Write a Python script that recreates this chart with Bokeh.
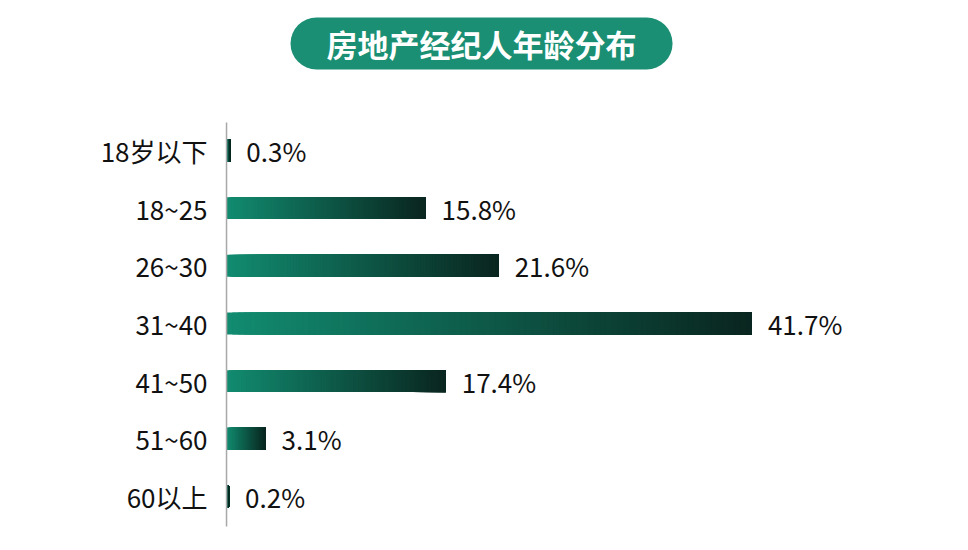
from bokeh.plotting import figure
from bokeh.models import Range1d, ColumnDataSource, BoxAnnotation, Label
from bokeh.core.properties import value
from bokeh.embed import file_html
from bokeh.resources import INLINE

title = "房地产经纪人年龄分布"
categories = ["18岁以下", "18~25", "26~30", "31~40", "41~50", "51~60", "60以上"]
shares = [0.3, 15.8, 21.6, 41.7, 17.4, 3.1, 0.2]
value_labels = ["0.3%", "15.8%", "21.6%", "41.7%", "17.4%", "3.1%", "0.2%"]

FONT = "Noto Sans CJK SC"
c0 = (18, 140, 112)
c1 = (10, 38, 32)

p = figure(width=952, height=534, output_backend="svg", toolbar_location=None,
           x_range=Range1d(-17.94, 57.62), y_range=Range1d(6.659, -2.601),
           min_border=0, outline_line_color=None)
p.axis.visible = False
p.grid.visible = False
p.background_fill_color = "white"
p.border_fill_color = "white"

# gradient bars: overlapping slices, each running to the bar end
N = 90
left, right, top, bottom, colors = [], [], [], [], []
for i, v in enumerate(shares):
    for k in range(N):
        t = k / (N - 1)
        left.append(v * k / N)
        right.append(v)
        top.append(i - 0.19)
        bottom.append(i + 0.19)
        r = int(c0[0] + (c1[0] - c0[0]) * t)
        g = int(c0[1] + (c1[1] - c0[1]) * t)
        b = int(c0[2] + (c1[2] - c0[2]) * t)
        colors.append(f"#{r:02x}{g:02x}{b:02x}")
p.quad(left=left, right=right, top=top, bottom=bottom, fill_color=colors, line_color=None)

# axis line
p.segment(x0=[0], y0=[-0.486], x1=[0], y1=[6.52], line_color="#a8a8a8", line_width=1.5)

src = ColumnDataSource(dict(y=list(range(len(categories))), cat=categories, v=shares, lab=value_labels,
                            zero=[0] * len(categories)))
p.text(x="zero", y="y", text="cat", source=src, x_offset=-19, text_align="right", text_baseline="middle",
       text_font=value(FONT), text_font_size="26px", text_color="#111111")
p.text(x="v", y="y", text="lab", source=src, x_offset=16, text_align="left", text_baseline="middle",
       text_font=value(FONT), text_font_size="26px", text_color="#111111")

# title pill
pill = BoxAnnotation(left=5.08, right=35.40, top=-2.306, bottom=-1.405, fill_color="#1a8f73",
                     fill_alpha=1.0, line_color=None, border_radius=26, level="underlay")
p.add_layout(pill)
p.add_layout(Label(x=20.24, y=-1.855, text=title, text_align="center", text_baseline="middle",
                   text_font=FONT, text_font_size="31px", text_font_style="bold", text_color="white"))

open("out.html", "w").write(file_html(p, INLINE))
